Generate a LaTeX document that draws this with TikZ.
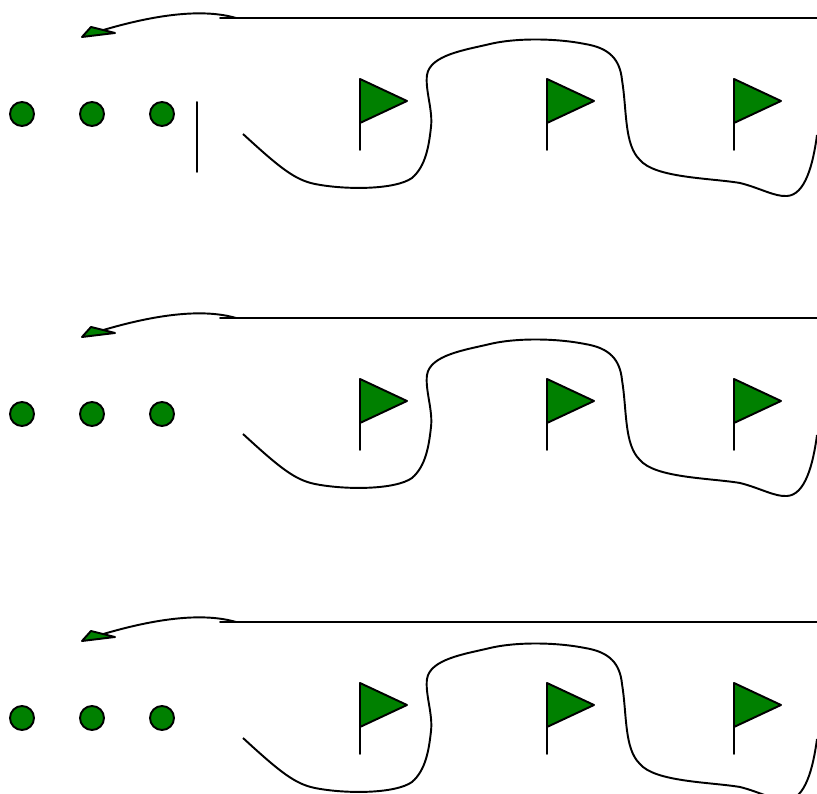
\documentclass[tikz,border=0pt]{standalone}
\usepackage{tkz-euclide}
\definecolor{FlagClr}{rgb}{0,0.5,0}

\begin{document}
\begin{tikzpicture}
\useasboundingbox (0,0) rectangle (8.17,7.94);
\clip (0,0) rectangle (8.17,7.94);
\tkzSetUpLine[line width=.55pt,color=black]

% one row of the picture, repeated from top to bottom
\foreach \RowY in {7.94,4.94,1.90}{
\begin{scope}[yshift=\RowY cm]
\tkzDefPoints{.22/-1.14/O,.34/-1.14/P,.92/-1.14/Q,1.04/-1.14/R,1.62/-1.14/S,1.74/-1.14/T}
\tkzDrawCircles[line width=.55pt,color=black,fill=FlagClr](O,P Q,R S,T)

\tkzDefPoints{2.20/-.18/L,8.20/-.18/E}
\tkzDrawSegments[line width=.55pt](L,E)

% arrow over the line
\draw[line width=.55pt] (2.36,-.18) .. controls (2.05,-.09) and (1.60,-.13) .. (1.00,-.31);
\tkzDefPoints{.82/-.37/A,.91/-.27/B,1.15/-.33/C}
\tkzDrawPolygon[line width=.55pt,color=black,fill=FlagClr](A,B,C)

% the flags
\foreach \FlagX in {3.60,5.47,7.34}{
\begin{scope}[xshift=\FlagX cm]
\tkzDefPoints{0/-.79/F,.47/-1.01/G,0/-1.23/H,0/-1.50/J}
\tkzDrawSegments[line width=.55pt](H,J)
\tkzDrawPolygon[line width=.55pt,color=black,fill=FlagClr](F,G,H)
\end{scope}
}

% the winding path
\draw[line width=.55pt] (2.43,-1.34) .. controls (2.80,-1.68) and (2.95,-1.80) .. (3.15,-1.84)
  .. controls (3.45,-1.90) and (3.95,-1.90) .. (4.12,-1.78)
  .. controls (4.26,-1.66) and (4.29,-1.45) .. (4.31,-1.27)
  .. controls (4.33,-1.10) and (4.25,-.90) .. (4.27,-.75)
  .. controls (4.30,-.55) and (4.65,-.50) .. (4.90,-.44)
  .. controls (5.15,-.38) and (5.55,-.38) .. (5.85,-.44)
  .. controls (6.10,-.48) and (6.20,-.60) .. (6.22,-.80)
  .. controls (6.27,-1.10) and (6.24,-1.45) .. (6.40,-1.60)
  .. controls (6.55,-1.78) and (7.10,-1.78) .. (7.40,-1.83)
  .. controls (7.60,-1.88) and (7.75,-1.97) .. (7.87,-1.96)
  .. controls (8.05,-1.95) and (8.13,-1.65) .. (8.17,-1.35);
\end{scope}
}

% the bar in the top row only
\tkzDefPoints{1.97/6.92/U,1.97/6.22/V}
\tkzDrawSegments[line width=.55pt](U,V)
\end{tikzpicture}
\end{document}
